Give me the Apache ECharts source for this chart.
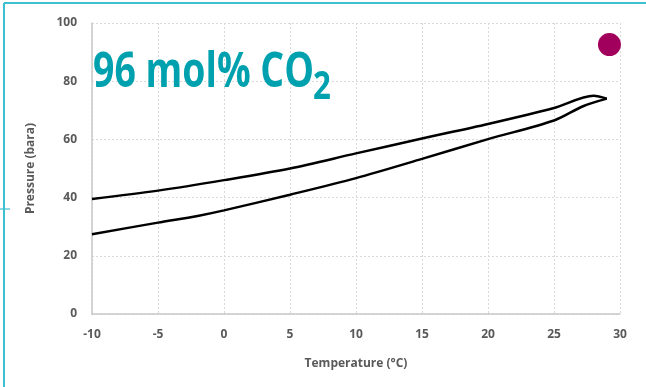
<!DOCTYPE html>
<html>
<head>
<meta charset="utf-8">
<script src="https://cdn.jsdelivr.net/npm/echarts@6/dist/echarts.min.js"></script>
<style>
  html, body { margin: 0; padding: 0; background: #fff; }
  #chart { width: 646px; height: 387px; }
</style>
</head>
<body>
<div id="chart"></div>
<script>
// Phase envelope of a 96 mol% CO2 mixture: upper branch and lower branch
const upperBranch = [
  [-10, 39.5], [-5, 42.4], [0, 46.0], [5, 50.0], [10, 55.2],
  [15, 60.3], [20, 65.3], [25, 70.8], [28, 75.0], [29, 74.0]
];
const lowerBranch = [
  [-10, 27.4], [-5, 31.4], [-2, 33.7], [0, 35.6], [5, 41.0], [10, 46.7],
  [15, 53.3], [20, 60.1], [25, 66.5], [27.2, 71.4], [29, 74.0]
];
// Single operating point
const operatingPoint = [[29.2, 92.6]];

const xTicks = { min: -10, max: 30, step: 5 };
const yTicks = { min: 0, max: 100, step: 20 };

const labelColor = '#595959';
const fontFamily = '"Open Sans", "Noto Sans", sans-serif';

const chart = echarts.init(document.getElementById('chart'), null, { renderer: 'canvas' });

chart.setOption({
  animation: false,
  backgroundColor: '#ffffff',
  grid: { left: 92, right: 26, top: 23, bottom: 73 },
  xAxis: {
    type: 'value',
    min: xTicks.min, max: xTicks.max, interval: xTicks.step,
    name: 'Temperature (°C)',
    nameLocation: 'middle',
    nameGap: 44,
    nameTextStyle: { color: labelColor, fontFamily, fontWeight: 'bold', fontSize: 12 },
    axisLine: { show: true, onZero: false, lineStyle: { color: '#c8c8c8', width: 1.5 } },
    axisTick: { show: false },
    axisLabel: { color: labelColor, fontFamily, fontWeight: 'bold', fontSize: 12, margin: 15 },
    splitLine: { show: true, lineStyle: { color: '#d9d9d9', type: [2, 2], width: 1 } }
  },
  yAxis: {
    type: 'value',
    min: yTicks.min, max: yTicks.max, interval: yTicks.step,
    name: 'Pressure (bara)',
    nameLocation: 'middle',
    nameGap: 55,
    nameTextStyle: { color: labelColor, fontFamily, fontWeight: 'bold', fontSize: 12 },
    axisLine: { show: true, onZero: false, lineStyle: { color: '#c8c8c8', width: 1.5 } },
    axisTick: { show: false },
    axisLabel: { color: labelColor, fontFamily, fontWeight: 'bold', fontSize: 12, margin: 15 },
    splitLine: { show: true, lineStyle: { color: '#d9d9d9', type: [2, 2], width: 1 } }
  },
  series: [
    {
      name: 'upper',
      type: 'line',
      data: upperBranch,
      smooth: 0.3,
      symbol: 'none',
      lineStyle: { color: '#000000', width: 2.5 }
    },
    {
      name: 'lower',
      type: 'line',
      data: lowerBranch,
      smooth: 0.3,
      symbol: 'none',
      lineStyle: { color: '#000000', width: 2.5 }
    },
    {
      name: 'point',
      type: 'scatter',
      data: operatingPoint,
      symbol: 'circle',
      symbolSize: 23,
      itemStyle: { color: '#A1005C', opacity: 1 }
    }
  ],
  graphic: [
    // frame lines
    { type: 'line', shape: { x1: 4, y1: 3, x2: 646, y2: 3 }, style: { stroke: '#3cc0d0', lineWidth: 2 }, z: 10 },
    { type: 'line', shape: { x1: 4, y1: 3, x2: 4, y2: 387 }, style: { stroke: '#3cc0d0', lineWidth: 2 }, z: 10 },
    { type: 'line', shape: { x1: 0, y1: 209, x2: 10, y2: 209 }, style: { stroke: '#3cc0d0', lineWidth: 1.2 }, z: 10 },
    // composition label
    {
      type: 'text', x: 93, y: 49, scaleX: 0.78,
      style: { text: '96 mol% CO', font: 'bold 48px ' + fontFamily, fill: '#00A1AE', verticalAlign: 'top' },
      z: 20
    },
    {
      type: 'text', x: 313, y: 68, scaleX: 0.78,
      style: { text: '2', font: 'bold 40px ' + fontFamily, fill: '#00A1AE', verticalAlign: 'top' },
      z: 20
    }
  ]
});
</script>
</body>
</html>
